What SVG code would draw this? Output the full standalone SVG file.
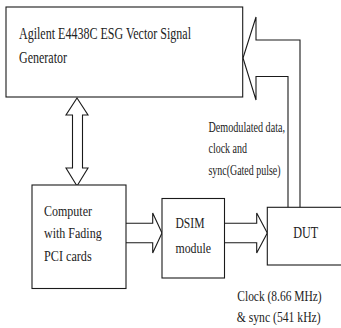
<svg xmlns="http://www.w3.org/2000/svg" width="341" height="328" viewBox="0 0 341 328">
<style>
.box{fill:#fff;stroke:#1a1a1a;stroke-width:1.1}
.arr{fill:#fff;stroke:#1a1a1a;stroke-width:1.1;stroke-linejoin:miter}
text{font-family:"Liberation Serif","Times New Roman",serif;fill:#222}
.t16{font-size:16px}
.t15{font-size:15px}
.t14{font-size:14px}
</style>
<rect width="341" height="328" fill="#fff"/>
<g id="connectors">
<polyline class="arr" points="288,207.5 288,76.5 256,76.5 256,100 243,58 256,17 256,40 300,40 300,207.5"/>
<polygon class="arr" points="77,98 88,115 82.5,115 82.5,168 88,168 77,186 66,168 72.5,168 72.5,115 66,115"/>
<polyline class="arr" points="126,223.3 152.7,223.3 152.7,213 162,233 152.7,253 152.7,242.7 126,242.7"/>
<polyline class="arr" points="224.5,223.3 256.7,223.3 256.7,213 267.3,233 256.7,253 256.7,242.7 224.5,242.7"/>
</g>
<g id="generator">
<rect class="box" x="6" y="7" width="236.7" height="90"/>
<text class="t16" x="19" y="38.5" textLength="172" lengthAdjust="spacingAndGlyphs">Agilent E4438C ESG Vector Signal</text>
<text class="t16" x="19" y="62.5" textLength="48" lengthAdjust="spacingAndGlyphs">Generator</text>
</g>
<g id="computer">
<rect class="box" x="32" y="185" width="94" height="103.5"/>
<text class="t15" x="44" y="216" textLength="48" lengthAdjust="spacingAndGlyphs">Computer</text>
<text class="t15" x="44" y="238" textLength="57.7" lengthAdjust="spacingAndGlyphs">with Fading</text>
<text class="t15" x="44" y="260.5" textLength="47.7" lengthAdjust="spacingAndGlyphs">PCI cards</text>
</g>
<g id="dsim">
<rect class="box" x="162" y="198.5" width="62.5" height="79.5"/>
<text class="t15" x="175.5" y="227.5" textLength="29" lengthAdjust="spacingAndGlyphs">DSIM</text>
<text class="t15" x="175.5" y="253" textLength="35.5" lengthAdjust="spacingAndGlyphs">module</text>
</g>
<g id="dut">
<rect class="box" x="267.3" y="207.3" width="80" height="57.7"/>
<text class="t16" x="293.3" y="238" textLength="25" lengthAdjust="spacingAndGlyphs">DUT</text>
</g>
<g id="labels">
<text class="t14" x="208.5" y="132" textLength="76.5" lengthAdjust="spacingAndGlyphs">Demodulated data,</text>
<text class="t14" x="208.5" y="153" textLength="38.5" lengthAdjust="spacingAndGlyphs">clock and</text>
<text class="t14" x="208.5" y="174.5" textLength="72" lengthAdjust="spacingAndGlyphs">sync(Gated pulse)</text>
<text class="t14" x="237.3" y="300.5" textLength="84.4" lengthAdjust="spacingAndGlyphs">Clock (8.66 MHz)</text>
<text class="t14" x="236.7" y="321.5" textLength="84" lengthAdjust="spacingAndGlyphs">&amp; sync (541 kHz)</text>
</g>
</svg>
